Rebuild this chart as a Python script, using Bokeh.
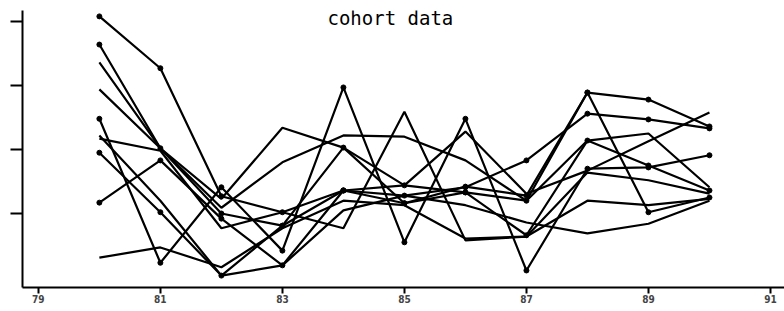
from bokeh.plotting import figure
from bokeh.models import FixedTicker, Label
from bokeh.embed import file_html
from bokeh.resources import INLINE

years = [80, 81, 82, 83, 84, 85, 86, 87, 88, 89, 90]

cohort_a = [4.08, 3.27, 1.27, 1.02, 1.36, 1.28, 1.41, 1.83, 2.56, 2.47, 2.33]
cohort_b = [3.64, 2.02, 1.00, 0.81, 2.03, 1.16, 1.33, 1.20, 2.89, 2.78, 2.36]
cohort_c = [3.36, 2.02, 1.09, 1.80, 2.22, 2.20, 1.83, 1.20, 2.14, 2.25, 1.41]
cohort_d = [2.94, 2.02, 1.23, 2.34, 2.03, 1.44, 2.28, 1.31, 1.67, 2.13, 2.58]
cohort_e = [2.48, 0.23, 1.41, 0.42, 2.97, 0.55, 2.48, 0.11, 1.70, 1.72, 1.91]
cohort_f = [2.22, 1.20, 0.03, 0.19, 1.05, 1.28, 1.13, 0.86, 0.69, 0.84, 1.20]
cohort_g = [2.17, 1.98, 0.77, 1.02, 0.77, 2.59, 0.58, 0.64, 1.64, 1.52, 1.31]
cohort_h = [1.95, 1.02, 0.03, 0.81, 1.36, 1.16, 1.42, 1.28, 2.89, 1.02, 1.25]
cohort_i = [1.17, 1.83, 0.92, 0.19, 1.36, 1.44, 1.33, 0.66, 2.14, 1.75, 1.36]
cohort_j = [0.31, 0.47, 0.16, 0.77, 1.20, 1.13, 0.61, 0.64, 1.20, 1.13, 1.23]

series = [cohort_a, cohort_b, cohort_c, cohort_d, cohort_e,
          cohort_f, cohort_g, cohort_h, cohort_i, cohort_j]
with_markers = [True, True, False, False, True, False, False, True, True, False]

x_ticks = [79, 81, 83, 85, 87, 89, 91]
y_ticks = [1, 2, 3, 4]
title_text = "cohort data"

p = figure(frame_width=762, frame_height=277,
           x_range=(78.74, 91.23), y_range=(-0.156, 4.172),
           output_backend="svg", toolbar_location=None,
           min_border_left=22, min_border_top=10, min_border_right=0,
           min_border_bottom=4)
p.outline_line_color = None
p.xgrid.visible = False
p.ygrid.visible = False
p.background_fill_color = "white"

for s, m in zip(series, with_markers):
    p.line(years, s, line_color="black", line_width=2.2)
    if m:
        p.scatter(years, s, size=5, color="black")

p.xaxis.ticker = FixedTicker(ticks=x_ticks)
p.xaxis.major_label_overrides = {t: str(t) for t in x_ticks}
p.xaxis.minor_tick_line_color = None
p.xaxis.major_tick_out = 6
p.xaxis.major_tick_in = 0
p.xaxis.axis_line_width = 2
p.xaxis.major_tick_line_width = 2
p.xaxis.major_label_text_font = "DejaVu Sans Condensed"
p.xaxis.major_label_text_font_style = "bold"
p.xaxis.major_label_text_font_size = "10px"
p.xaxis.major_label_standoff = 1

p.yaxis.ticker = FixedTicker(ticks=y_ticks)
p.yaxis.major_label_overrides = {t: "" for t in y_ticks}
p.yaxis.minor_tick_line_color = None
p.yaxis.major_tick_out = 12
p.yaxis.major_tick_in = 0
p.yaxis.axis_line_width = 2
p.yaxis.major_tick_line_width = 2
p.yaxis.major_label_standoff = 0

p.add_layout(Label(x=84.77, y=4.05, text=title_text, text_align="center",
                   text_baseline="middle", text_font="DejaVu Sans Mono",
                   text_font_size="19px", text_color="black"))

open("out.html", "w").write(file_html(p, INLINE))
